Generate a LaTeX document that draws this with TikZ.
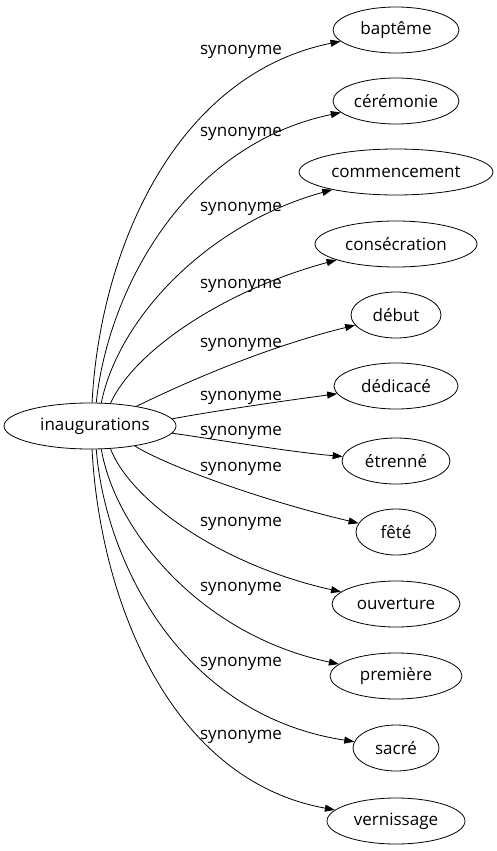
\documentclass[tikz,border=0pt]{standalone}
\usepackage{fontspec}
\setmainfont{Open Sans}
\usetikzlibrary{shapes.geometric,arrows.meta}
\tikzset{
  nd/.style={draw, ellipse, inner sep=0pt, minimum height=46pt, line width=0.8pt, font=\fontsize{17}{20}\selectfont},
  lbl/.style={anchor=base, inner sep=0pt, font=\fontsize{17}{20}\selectfont},
  edge/.style={draw, line width=0.8pt, -{Triangle[length=10pt,width=7pt]}}
}
\begin{document}
\begin{tikzpicture}[x=1pt,y=-1pt]
\useasboundingbox (0,0) rectangle (497,851);
\node[nd, minimum width=172pt] (s) at (90,426) {\hspace{10pt}inaugurations};
\node[nd, minimum width=126pt] (t1) at (396,30) {baptême};
\node[nd, minimum width=126pt] (t2) at (396,101) {cérémonie};
\node[nd, minimum width=194pt] (t3) at (396,172) {commencement};
\node[nd, minimum width=162pt] (t4) at (396,244) {consécration};
\node[nd, minimum width=90pt] (t5) at (396,315) {début};
\node[nd, minimum width=124pt] (t6) at (396,386) {dédicacé};
\node[nd, minimum width=108pt] (t7) at (396,461) {étrenné};
\node[nd, minimum width=80pt] (t8) at (396,532) {fêté};
\node[nd, minimum width=128pt] (t9) at (396,604) {ouverture};
\node[nd, minimum width=132pt] (t10) at (396,676) {première};
\node[nd, minimum width=86pt] (t11) at (396,748) {sacré};
\node[nd, minimum width=138pt] (t12) at (396,821) {vernissage};

\path[edge] (s.85) .. controls (100,250) and (175,75) .. (t1);
\path[edge] (s.75) .. controls (108,290) and (185,145) .. (t2);
\path[edge] (s.64) .. controls (118,320) and (205,225) .. (t3);
\path[edge] (s.48) .. controls (135,350) and (225,290) .. (t4);
\path[edge] (s.23.5) .. controls (170,390) and (255,350) .. (t5);
\path[edge] (s.5.7) .. controls (220,410) and (290,400) .. (t6);
\path[edge] (s.-5) .. controls (220,440) and (290,452) .. (t7);
\path[edge] (s.-24.5) .. controls (165,465) and (260,500) .. (t8);
\path[edge] (s.-48.5) .. controls (130,500) and (220,565) .. (t9);
\path[edge] (s.-64) .. controls (115,530) and (200,635) .. (t10);
\path[edge] (s.-75) .. controls (105,560) and (180,715) .. (t11);
\path[edge] (s.-85) .. controls (100,600) and (170,780) .. (t12);

\node[lbl] (l1) at (241,55) {synonyme};
\node[lbl] (l2) at (241,136) {synonyme};
\node[lbl] (l3) at (241,211) {synonyme};
\node[lbl] (l4) at (241,288) {synonyme};
\node[lbl] (l5) at (241,347) {synonyme};
\node[lbl] (l6) at (241,400) {synonyme};
\node[lbl] (l7) at (241,435) {synonyme};
\node[lbl] (l8) at (241,471) {synonyme};
\node[lbl] (l9) at (241,526) {synonyme};
\node[lbl] (l10) at (241,591) {synonyme};
\node[lbl] (l11) at (241,666) {synonyme};
\node[lbl] (l12) at (241,739) {synonyme};
\end{tikzpicture}
\end{document}
